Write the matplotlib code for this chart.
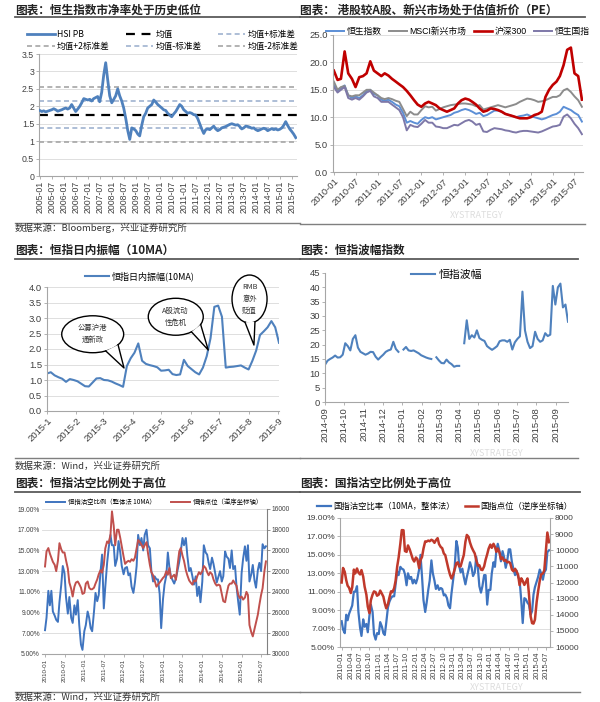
import matplotlib
matplotlib.use("Agg")
import matplotlib.pyplot as plt
from matplotlib.lines import Line2D
from matplotlib.patches import Ellipse, Polygon
import numpy as np
import pandas as pd

plt.rcParams["font.family"] = ["Liberation Sans", "Noto Sans CJK SC"]
CJK = ["Noto Sans CJK SC", "DejaVu Sans"]

# ---- panel 1: HSI PB, monthly from 2005-01
hsi_pb = [
    1.88, 1.85, 1.87, 1.84, 1.86, 1.88, 1.90, 1.93, 1.90, 1.86, 1.88, 1.90,
    1.93, 1.95, 1.92, 1.95, 2.05, 1.95, 1.85, 1.92, 2.00, 2.10, 2.22, 2.20,
    2.18, 2.20, 2.15, 2.22, 2.25, 2.28, 2.13, 2.40, 2.90, 3.25, 2.75, 2.30,
    2.10, 2.20, 2.30, 2.50, 2.30, 2.15, 1.95, 1.65, 1.30, 1.05, 1.38, 1.35,
    1.30, 1.20, 1.15, 1.45, 1.70, 1.80, 1.95, 2.00, 2.05, 2.18, 2.12, 2.05,
    2.00, 1.95, 1.90, 1.88, 1.80, 1.75, 1.70, 1.78, 1.85, 1.95, 2.05, 2.00,
    1.90, 1.85, 1.80, 1.82, 1.80, 1.76, 1.75, 1.65, 1.50, 1.35, 1.22, 1.33,
    1.35, 1.33, 1.38, 1.43, 1.35, 1.30, 1.33, 1.38, 1.40, 1.42, 1.45, 1.48,
    1.50, 1.48, 1.46, 1.47, 1.42, 1.35, 1.38, 1.43, 1.42, 1.40, 1.37, 1.38,
    1.33, 1.30, 1.32, 1.35, 1.37, 1.35, 1.30, 1.33, 1.36, 1.33, 1.35, 1.32,
    1.34, 1.38, 1.45, 1.56, 1.45, 1.35, 1.28, 1.20, 1.10,
]
pb_mean = 1.75
pb_plus1, pb_plus2 = 2.15, 2.55
pb_minus1, pb_minus2 = 1.37, 0.97

# ---- panel 2: PE, monthly from 2010-01
pe_hsi = [
    15.8, 14.8, 15.3, 15.8, 14.0, 13.5, 13.8, 13.5, 14.0, 14.8, 15.0, 14.2,
    14.0, 13.2, 13.0, 13.2, 12.8, 12.3, 12.0, 10.8, 9.0, 9.3, 9.0, 8.8,
    9.5, 10.0, 9.8, 10.0, 9.6, 9.8, 10.0, 10.2, 10.4, 10.8, 11.0, 11.3,
    11.5, 11.3, 11.0, 10.6, 10.8, 10.2, 10.4, 10.8, 11.2, 11.2, 11.0, 10.6,
    10.4, 10.2, 10.0, 10.2, 10.3, 10.5, 10.2, 10.0, 9.8, 9.6, 9.8, 10.1,
    10.4, 10.6, 11.0, 11.9, 11.6, 11.3, 10.8, 10.4, 9.2,
]
pe_msci = [
    16.5, 15.0, 15.5, 15.7, 14.0, 13.8, 14.0, 14.0, 14.5, 15.0, 15.0, 14.5,
    14.0, 13.5, 13.3, 13.5, 13.3, 13.0, 12.8, 11.5, 10.2, 11.0, 10.5, 10.5,
    11.3, 12.0, 11.8, 11.9, 11.2, 11.5, 11.8, 12.0, 12.2, 12.3, 12.4, 12.5,
    12.5, 12.4, 12.3, 12.0, 12.2, 11.4, 11.6, 11.8, 12.0, 12.2, 12.0, 11.8,
    12.0, 12.2, 12.4, 12.8, 13.1, 13.4, 13.3, 13.1, 12.8, 12.9, 13.1, 13.4,
    13.7, 13.7, 14.0, 14.9, 15.2, 14.6, 13.8, 13.1, 11.9,
]
pe_hs300 = [
    18.5, 16.8, 17.0, 22.0, 18.0, 17.0, 15.5, 17.3, 17.5, 18.0, 20.2, 18.5,
    18.0, 17.5, 18.0, 17.6, 17.0, 16.5, 16.0, 15.5, 14.8, 14.0, 13.1, 12.3,
    11.9, 12.5, 12.8, 12.5, 12.2, 11.6, 11.3, 11.0, 11.3, 11.6, 12.5, 13.1,
    13.4, 13.2, 12.8, 12.3, 11.6, 11.0, 11.2, 11.6, 11.5, 11.3, 11.0, 10.6,
    10.4, 10.2, 10.0, 9.8, 9.8, 9.8, 10.0, 10.4, 10.6, 11.0, 13.7, 15.0,
    15.9, 16.5, 17.5, 19.5, 22.3, 22.7, 18.0, 17.5, 13.2,
]
pe_hscei = [
    15.5, 14.5, 15.0, 15.5, 13.5, 13.2, 13.5, 13.2, 13.8, 14.5, 14.8, 13.8,
    13.5, 12.8, 12.8, 12.8, 12.3, 11.8, 11.3, 10.0, 7.6, 8.6, 8.3, 8.2,
    8.8, 9.5, 9.0, 9.0, 8.3, 8.2, 8.0, 8.0, 8.3, 8.6, 8.5, 8.9,
    9.3, 9.5, 9.2, 8.6, 8.8, 7.4, 7.3, 7.7, 8.0, 7.9, 7.8, 7.6,
    7.5, 7.3, 7.2, 7.4, 7.5, 7.5, 7.4, 7.3, 7.2, 7.4, 7.7, 8.0,
    8.3, 8.4, 8.6, 10.1, 10.5, 9.8, 8.8, 8.0, 6.9,
]

# ---- panel 3: HSI intraday range 10MA, every 4 days from 2015-01-01
hsi_range = [
    1.21, 1.25, 1.15, 1.09, 1.04, 0.94, 1.03, 1.00, 0.96, 0.88,
    0.80, 0.79, 0.92, 1.05, 1.06, 1.00, 0.99, 0.95, 0.89, 0.84,
    0.78, 1.45, 1.70, 1.88, 2.18, 1.62, 1.52, 1.48, 1.45, 1.41,
    1.30, 1.31, 1.33, 1.19, 1.16, 1.18, 1.65, 1.45, 1.35, 1.25,
    1.18, 1.40, 1.77, 2.35, 3.36, 3.40, 3.04, 1.40, 1.42, 1.43,
    1.45, 1.47, 1.40, 1.34, 1.62, 1.95, 2.45, 2.57, 2.70, 2.90,
    2.70, 2.20,
]

# ---- panel 4: VHSI, every 4 days from 2014-09-01 (nan = holiday gap)
nan = np.nan
vhsi = [
    13.0, 14.4, 15.0, 15.5, 16.2, 15.5, 15.6, 16.5, 20.5, 19.5,
    18.0, 22.0, 23.3, 19.0, 17.5, 17.0, 16.5, 16.9, 17.5, 17.4,
    15.8, 14.8, 15.7, 16.5, 17.5, 18.0, 18.3, 21.0, 18.5, 17.5,
    nan, 18.3, 19.2, 18.0, 17.8, 18.0, 17.5, 17.0, 16.3, 15.9,
    15.5, 15.2, 15.0, nan, 15.6, 14.5, 13.6, 13.5, 14.8, 13.8,
    13.2, 12.3, 12.6, 12.6, nan, 20.5, 28.5, 22.0, 23.3, 22.5,
    25.0, 22.3, 21.7, 21.3, 19.5, 18.8, 18.2, 18.8, 19.5, 21.2,
    21.5, 21.5, 21.0, 21.7, 18.3, 20.8, 22.0, 22.9, 38.5, 25.0,
    21.0, 18.8, 19.5, 24.5, 22.0, 21.0, 21.5, 24.0, 23.0, 23.5,
    40.5, 34.0, 40.0, 41.3, 33.0, 34.0, 28.0,
]

# ---- panel 5: HSI short ratio (%) and HSI level, semi-monthly from 2010-01
hsi_short = [
    7.3, 8.5, 11.1, 9.7, 11.1, 9.1, 8.7, 8.3, 8.1, 10.0,
    11.7, 13.5, 12.8, 10.5, 8.9, 10.5, 8.5, 8.0, 9.7, 8.8,
    10.2, 7.8, 5.9, 5.4, 7.2, 7.8, 9.1, 8.5, 7.5, 7.2,
    9.1, 10.9, 10.1, 10.7, 13.0, 14.6, 9.4, 11.5, 13.8, 15.2,
    16.5, 15.5, 15.5, 13.5, 14.2, 15.9, 14.8, 13.5, 12.7, 13.3,
    13.4, 12.6, 12.8, 11.5, 10.9, 11.9, 13.5, 16.5, 15.5, 16.2,
    15.0, 16.5, 17.0, 15.5, 15.2, 13.0, 12.0, 12.5, 12.2, 12.2,
    10.8, 7.5, 10.3, 11.7, 12.6, 14.8, 13.4, 12.5, 12.1, 11.8,
    12.3, 13.0, 13.9, 14.9, 16.2, 15.5, 16.2, 14.5, 13.0, 13.3,
    12.5, 11.7, 12.5, 10.6, 11.5, 10.0, 12.0, 15.5, 14.8, 14.6,
    13.8, 13.2, 14.3, 13.7, 12.8, 11.9, 12.5, 13.0, 12.0, 12.5,
    14.9, 14.4, 14.2, 13.3, 15.0, 13.2, 13.5, 11.5, 10.0, 8.8,
    12.8, 14.2, 15.4, 14.0, 15.5, 12.0, 12.7, 13.6, 12.1, 11.4,
    13.1, 13.8, 13.0, 15.6, 15.2, 15.4,
]
hsi_level = [
    21550, 20100, 19770, 20300, 20700, 21100, 21400, 22000, 21000, 19300,
    19900, 20200, 20200, 20950, 21750, 23100, 23700, 24450, 23500, 23100,
    23000, 23250, 23600, 24200, 24100, 23200, 23000, 23600, 23750, 23750,
    23600, 23200, 22800, 22300, 21900, 22150, 21400, 19800, 19130, 19290,
    18500, 16230, 17600, 19500, 18000, 18000, 18800, 19600, 20600, 21300,
    21100, 21000, 21100, 20850, 21000, 20700, 19800, 19000, 19200, 19450,
    19770, 19500, 19200, 20300, 21400, 22100, 22400, 22900, 23500, 23300,
    23100, 22900, 22650, 22500, 22000, 22350, 21700, 22680, 22500, 22350,
    22840, 21550, 20100, 19770, 20500, 21000, 21900, 22400, 22900, 23100,
    23300, 22900, 23000, 22500, 22100, 22300, 22000, 21500, 21700, 22100,
    22400, 22100, 22300, 22800, 23200, 23400, 23300, 23400, 24200, 24900,
    25000, 24200, 23400, 23200, 23200, 22900, 23200, 23400, 24300, 24600,
    24450, 24750, 24550, 24000, 24300, 27200, 27900, 28300, 27600, 27000,
    26200, 25260, 24300, 23650, 22000, 21060,
]

# ---- panel 6: HSCEI short ratio (%) and HSCEI level, semi-monthly from 2010-01
hscei_short = [
    7.8, 6.9, 6.5, 8.5, 7.9, 8.6, 9.1, 9.5, 11.0, 11.0,
    11.6, 8.8, 7.1, 6.2, 8.0, 7.2, 7.5, 6.6, 8.4, 9.6,
    8.8, 6.4, 5.8, 6.5, 6.4, 7.7, 7.2, 6.5, 6.3, 7.6,
    9.3, 9.9, 10.3, 10.5, 10.5, 11.8, 13.2, 12.8, 13.7, 13.5,
    13.4, 12.9, 11.7, 13.0, 12.4, 12.6, 11.9, 12.3, 11.9, 12.4,
    13.4, 15.0, 12.6, 10.1, 8.8, 9.8, 11.2, 12.2, 14.4, 13.0,
    12.2, 11.3, 11.7, 11.2, 11.4, 11.3, 10.6, 10.7, 10.3, 9.5,
    9.2, 10.8, 12.3, 13.6, 16.5, 15.8, 13.8, 13.1, 13.5, 12.6,
    11.8, 12.6, 13.4, 14.2, 13.6, 12.7, 13.1, 14.8, 13.5, 11.6,
    10.9, 11.6, 12.8, 12.8, 9.6, 11.2, 11.2, 13.0, 14.2, 13.7,
    15.5, 16.2, 15.4, 14.3, 15.4, 14.8, 13.6, 14.3, 15.6, 15.6,
    14.2, 13.5, 12.8, 13.3, 12.6, 12.3, 10.0, 7.6, 10.3, 10.2,
    9.8, 9.6, 8.5, 8.9, 10.7, 11.5, 12.1, 12.6, 13.4, 13.0,
    12.3, 13.1, 13.4, 15.3, 15.5,
]
hscei_level = [
    12000, 11100, 11350, 11850, 12200, 12320, 12650, 12300, 11200, 11440,
    11130, 11380, 11500, 11230, 11640, 12260, 12750, 13500, 13900, 13100,
    12750, 12550, 12600, 12820, 12750, 12500, 12700, 12880, 13290, 13600,
    13350, 12950, 12550, 12600, 12350, 11900, 11000, 10450, 9580, 8750,
    8760, 10050, 10100, 9700, 9950, 10230, 10550, 10700, 10450, 10550,
    11100, 10610, 10410, 9900, 9450, 9460, 9400, 9440, 9350, 9400,
    9540, 9380, 9250, 9620, 9800, 9870, 10200, 10300, 10780, 11150,
    11520, 11750, 11500, 11200, 10800, 10750, 11000, 11000, 10600, 10300,
    9480, 9050, 9170, 9520, 9810, 10000, 10200, 10610, 10950, 10930,
    11200, 11230, 11000, 10600, 10250, 9900, 9650, 9850, 9600, 9790,
    10100, 9890, 10150, 10550, 10450, 10650, 10600, 10750, 10720, 10800,
    11200, 11300, 11150, 11300, 11540, 12160, 11740, 11900, 12150, 11980,
    11750, 12700, 14110, 14520, 14550, 14300, 13200, 12550, 11900, 11500,
    11440, 11250, 10000, 8900, 9500,
]

BLUE = "#4F81BD"
BLUE2 = "#3F74BF"
RED = "#C0504D"
GRID = "#D9D9D9"
AXC = "#A6A6A6"
TXT = "#404040"

W, H = 600, 702
fig = plt.figure(figsize=(6, 7.02), dpi=100)
fig.patch.set_facecolor("white")


def px_axes(l, t, r, b):
    return fig.add_axes([l / W, 1 - b / H, (r - l) / W, (b - t) / H])


def fig_text(x, y, s, **kw):
    fig.text(x / W, 1 - y / H, s, va="center", ha="left", family=CJK, **kw)


def fig_line(x0, x1, y, lw=1.3, color="#5A5A5A"):
    fig.add_artist(Line2D([x0 / W, x1 / W], [1 - y / H, 1 - y / H],
                          transform=fig.transFigure, lw=lw, color=color))


def style(ax, size, left=True, grid=True):
    for s in ["top", "right"]:
        ax.spines[s].set_visible(False)
    ax.spines["left"].set_visible(left)
    ax.spines["left"].set_color(AXC)
    ax.spines["bottom"].set_color(AXC)
    ax.tick_params(labelsize=size, labelcolor=TXT, color=AXC, length=2, width=0.6, pad=1.5)
    if grid:
        ax.yaxis.grid(True, color=GRID, lw=0.6)
        ax.set_axisbelow(True)


def date_ticks(ax, ticks, labels, rot, size):
    ax.set_xticks(ticks)
    if rot == 45:
        ax.set_xticklabels(labels, rotation=45, ha="right", va="top",
                           rotation_mode="anchor", fontsize=size)
    else:
        ax.set_xticklabels(labels, rotation=90, fontsize=size)


# titles, rules, sources
fig_text(15, 10, "图表：恒生指数市净率处于历史低位", fontsize=8.4, weight="bold", color="#222222")
fig_text(300, 10, "图表： 港股较A股、新兴市场处于估值折价（PE）", fontsize=8.4, weight="bold", color="#222222")
fig_text(15, 250, "图表：恒指日内振幅（10MA）", fontsize=8.4, weight="bold", color="#222222")
fig_text(300, 250, "图表：恒指波幅指数", fontsize=8.4, weight="bold", color="#222222")
fig_text(15, 483, "图表：恒指沽空比例处于高位", fontsize=8.4, weight="bold", color="#222222")
fig_text(300, 483, "图表：国指沽空比例处于高位", fontsize=8.4, weight="bold", color="#222222")
for x0, x1, y in [(15, 300, 17), (300, 585, 17), (15, 300, 259), (300, 578, 259),
                  (15, 300, 492), (300, 580, 492)]:
    fig_line(x0, x1, y)
for x0, x1, y in [(15, 300, 223), (300, 585, 224), (15, 300, 458), (300, 578, 458),
                  (15, 300, 692), (300, 580, 692)]:
    fig_line(x0, x1, y, lw=1.0, color="#7F7F7F")
fig_text(15, 228, "数据来源：Bloomberg，兴业证券研究所", fontsize=6.8, color="#333333")
fig_text(15, 466, "数据来源：Wind，兴业证券研究所", fontsize=6.8, color="#333333")
fig_text(15, 697, "数据来源：Wind，兴业证券研究所", fontsize=6.8, color="#333333")
# faint account watermark, kept clear of the tick labels
for x, y in [(450, 216), (470, 453), (470, 688)]:
    fig_text(x, y, "XYSTRATEGY", fontsize=6.5, color="#DDDDDD")

# ---- panel 1
ax1 = px_axes(39, 54, 297, 176)
style(ax1, 6.3)
pb_dates = pd.date_range("2005-01-01", periods=len(hsi_pb), freq="MS")
h_pb, = ax1.plot(pb_dates, hsi_pb, color=BLUE, lw=2.0, label="HSI PB", zorder=3)
h_m = ax1.axhline(pb_mean, color="black", lw=1.6, dashes=(4, 3), label="均值", zorder=2)
h_p1 = ax1.axhline(pb_plus1, color="#9FB3CF", lw=1.2, dashes=(3, 2), label="均值+标准差")
h_p2 = ax1.axhline(pb_plus2, color="#A6A6A6", lw=1.2, dashes=(3, 2), label="均值+2标准差")
h_m1 = ax1.axhline(pb_minus1, color="#9FB3CF", lw=1.2, dashes=(3, 2), label="均值-标准差")
h_m2 = ax1.axhline(pb_minus2, color="#A6A6A6", lw=1.2, dashes=(3, 2), label="均值-2标准差")
ax1.set_ylim(0, 3.5)
ax1.set_yticks(np.arange(0, 3.51, 0.5))
ax1.set_yticklabels([f"{v:g}" for v in np.arange(0, 3.51, 0.5)])
ax1.set_xlim(pd.Timestamp("2004-12-20"), pd.Timestamp("2015-09-20"))
t1 = pd.date_range("2005-01-01", "2015-07-01", freq="6MS")
date_ticks(ax1, t1, [t.strftime("%Y-%m") for t in t1], 90, 6.3)
hs = [h_pb, h_p2, h_m, h_m1, h_p1, h_m2]
ax1.legend(hs, [h.get_label() for h in hs], ncol=3, loc="lower left",
           bbox_to_anchor=(-0.06, 1.0, 1.08, 0.25), mode="expand", frameon=False,
           handlelength=3.2, borderaxespad=0, labelspacing=0.35,
           handletextpad=0.3, prop={"family": CJK, "size": 6.2})

# ---- panel 2
ax2 = px_axes(333, 35, 583, 172)
style(ax2, 6.8)
pe_dates = pd.date_range("2010-01-01", periods=len(pe_hsi), freq="MS")
ax2.plot(pe_dates, pe_hsi, color="#5C8FD6", lw=1.4, label="恒生指数")
ax2.plot(pe_dates, pe_msci, color="#8C8C8C", lw=1.4, label="MSCI新兴市场")
ax2.plot(pe_dates, pe_hs300, color="#C00000", lw=1.9, label="沪深300")
ax2.plot(pe_dates, pe_hscei, color="#7E78A8", lw=1.4, label="恒生国指")
ax2.set_ylim(0, 25)
ax2.set_yticks(np.arange(0, 25.1, 5))
ax2.set_yticklabels([f"{v:.1f}" for v in np.arange(0, 25.1, 5)])
ax2.set_xlim(pd.Timestamp("2009-12-25"), pd.Timestamp("2015-09-10"))
t2 = pd.date_range("2010-01-01", "2015-07-01", freq="6MS")
date_ticks(ax2, t2, [t.strftime("%Y-%m") for t in t2], 45, 6.8)
ax2.legend(ncol=4, loc="lower center", bbox_to_anchor=(0.5, 0.97), frameon=False,
           handlelength=2.0, columnspacing=0.9, handletextpad=0.3, borderaxespad=0,
           prop={"family": ["Liberation Sans", "Noto Sans CJK SC"], "size": 6.3})

# ---- panel 3
ax3 = px_axes(47, 287, 279, 411)
style(ax3, 6.8)
r_dates = pd.date_range("2015-01-01", periods=len(hsi_range), freq="4D")
ax3.plot(r_dates, hsi_range, color=BLUE, lw=1.5, label="恒指日内振幅(10MA)")
ax3.set_ylim(0, 4)
ax3.set_yticks(np.arange(0, 4.01, 0.5))
ax3.set_yticklabels([f"{v:.1f}" for v in np.arange(0, 4.01, 0.5)])
ax3.set_xlim(pd.Timestamp("2015-01-01"), pd.Timestamp("2015-09-02"))
t3 = pd.date_range("2015-01-01", "2015-09-01", freq="MS")
date_ticks(ax3, t3, [f"{t.year}-{t.month}" for t in t3], 45, 6.8)
ax3.legend(loc="lower center", bbox_to_anchor=(0.4, 1.02), frameon=False, handlelength=2.6,
           handletextpad=0.3, borderaxespad=0, prop={"family": CJK, "size": 6.5})


def bubble(ax, cx, cy, w, h, a1, a2, tip, text, fs=5.3):
    tr = ax.transAxes
    ax.add_patch(Ellipse((cx, cy), w, h, transform=tr, facecolor="white",
                         edgecolor="black", lw=1.0, zorder=5, clip_on=False))
    p1 = (cx + w / 2 * np.cos(np.radians(a1)), cy + h / 2 * np.sin(np.radians(a1)))
    p2 = (cx + w / 2 * np.cos(np.radians(a2)), cy + h / 2 * np.sin(np.radians(a2)))
    ax.add_patch(Polygon([p1, tip, p2], closed=True, transform=tr, facecolor="white",
                         edgecolor="none", zorder=6, clip_on=False))
    ax.plot([p1[0], tip[0], p2[0]], [p1[1], tip[1], p2[1]], transform=tr,
            color="black", lw=1.0, zorder=7, clip_on=False)
    ax.text(cx, cy, text, transform=tr, ha="center", va="center", fontsize=fs,
            zorder=8, linespacing=1.7, family=CJK, color="#333333")


bubble(ax3, 0.197, 0.619, 0.267, 0.298, -65, -35, (0.332, 0.347), "公募沪港\n通新政")
bubble(ax3, 0.555, 0.760, 0.237, 0.298, -55, -25, (0.695, 0.492), "A股流动\n性危机")
bubble(ax3, 0.873, 0.903, 0.151, 0.387, -105, -72, (0.892, 0.532), "RMB\n意外\n贬值")

# ---- panel 4
ax4 = px_axes(325, 273, 568, 402)
style(ax4, 6.8, grid=False)
v_dates = pd.date_range("2014-09-01", periods=len(vhsi), freq="4D")
ax4.plot(v_dates, vhsi, color=BLUE, lw=1.5, label="恒指波幅")
ax4.set_ylim(0, 45)
ax4.set_yticks(np.arange(0, 46, 5))
ax4.set_xlim(pd.Timestamp("2014-09-01"), pd.Timestamp("2015-09-20"))
t4 = pd.date_range("2014-09-01", "2015-09-01", freq="MS")
date_ticks(ax4, t4, [t.strftime("%Y-%m") for t in t4], 90, 6.8)
ax4.legend(loc="upper center", bbox_to_anchor=(0.5, 1.06), frameon=False, handlelength=2.2,
           handletextpad=0.3, borderaxespad=0, prop={"family": CJK, "size": 7.8})

# ---- panel 5
ax5 = px_axes(42, 509, 267, 654)
style(ax5, 4.8, left=False)
ax5.tick_params(axis="y", length=0)
s_dates = pd.date_range("2010-01-01", periods=len(hsi_short), freq="SMS")
l5a, = ax5.plot(s_dates, hsi_short, color=BLUE2, lw=1.4, label="恒指沽空比例（整体法 10MA）")
ax5.set_ylim(5, 19)
ax5.set_yticks(np.arange(5, 19.1, 2))
ax5.set_yticklabels([f"{v:.2f}%" for v in np.arange(5, 19.1, 2)])
ax5r = ax5.twinx()
l5b, = ax5r.plot(s_dates, hsi_level, color=RED, lw=1.4, label="恒指点位（逆序坐标轴）")
ax5r.set_ylim(30000, 16000)
ax5r.set_yticks(np.arange(16000, 30001, 2000))
for s in ["top", "left", "bottom"]:
    ax5r.spines[s].set_visible(False)
ax5r.spines["right"].set_color("#808080")
ax5r.tick_params(labelsize=4.8, labelcolor=TXT, color="#808080", length=2, width=0.6, pad=1.5)
ax5.set_xlim(pd.Timestamp("2009-12-04"), pd.Timestamp("2015-08-25"))
t5 = pd.date_range("2010-01-01", "2015-07-01", freq="6MS")
date_ticks(ax5, t5, [t.strftime("%Y-%m") for t in t5], 90, 4.5)
ax5.legend([l5a, l5b], [l5a.get_label(), l5b.get_label()], ncol=2, loc="lower center",
           bbox_to_anchor=(0.5, 1.0), frameon=False, handlelength=3.0, columnspacing=2.5,
           handletextpad=0.4, borderaxespad=0, prop={"family": CJK, "size": 4.6})

# ---- panel 6
ax6 = px_axes(340, 518, 550, 647)
style(ax6, 6.0)
g_dates = pd.date_range("2010-01-01", periods=len(hscei_short), freq="SMS")
l6a, = ax6.plot(g_dates, hscei_short, color=BLUE2, lw=1.6, label="国指沽空比率（10MA，整体法）")
ax6.set_ylim(5, 19)
ax6.set_yticks(np.arange(5, 19.1, 2))
ax6.set_yticklabels([f"{v:.2f}%" for v in np.arange(5, 19.1, 2)])
ax6r = ax6.twinx()
l6b, = ax6r.plot(g_dates, hscei_level, color="#C0392B", lw=1.8, label="国指点位（逆序坐标轴）")
ax6r.set_ylim(16000, 8000)
ax6r.set_yticks(np.arange(8000, 16001, 1000))
for s in ["top", "left", "bottom"]:
    ax6r.spines[s].set_visible(False)
ax6r.spines["right"].set_color(AXC)
ax6r.tick_params(labelsize=6.0, labelcolor=TXT, color=AXC, length=2, width=0.6, pad=1.5)
ax6.set_xlim(pd.Timestamp("2009-12-16"), pd.Timestamp("2015-08-10"))
t6 = pd.date_range("2010-01-01", "2015-07-01", freq="3MS")
date_ticks(ax6, t6, [t.strftime("%Y-%m") for t in t6], 90, 5.4)
ax6.legend([l6a, l6b], [l6a.get_label(), l6b.get_label()], ncol=2, loc="lower center",
           bbox_to_anchor=(0.5, 1.03), frameon=False, handlelength=1.6, columnspacing=1.2,
           handletextpad=0.3, borderaxespad=0, prop={"family": CJK, "size": 6.0})

fig.savefig("out.png", dpi=100, facecolor="white")
